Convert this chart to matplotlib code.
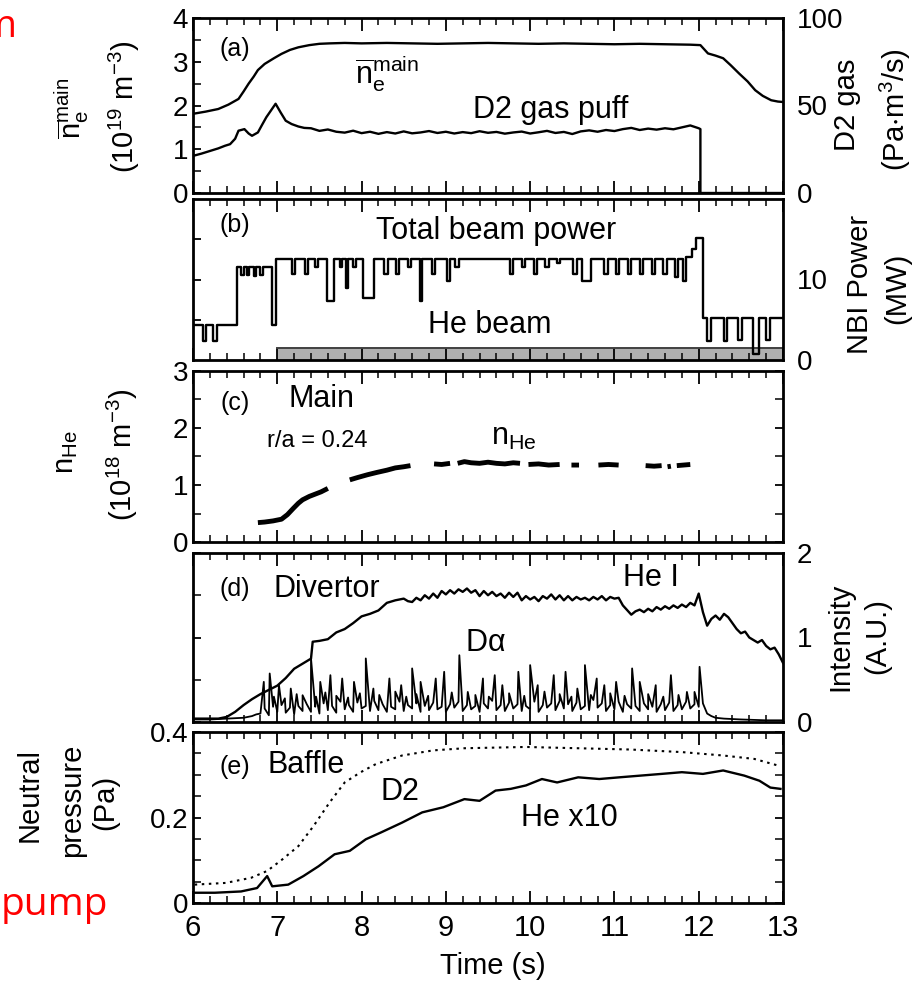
import numpy as np
import matplotlib
matplotlib.use("Agg")
import matplotlib.pyplot as plt
from matplotlib.ticker import MultipleLocator

plt.rcParams['font.family'] = ['Liberation Sans', 'DejaVu Sans']
plt.rcParams['mathtext.fontset'] = 'custom'
plt.rcParams['mathtext.rm'] = 'Liberation Sans'
plt.rcParams['mathtext.it'] = 'Liberation Sans'
plt.rcParams['mathtext.default'] = 'regular'

# ---------------- data ----------------
# (a) line-averaged density (1e19 m^-3) and D2 gas puff (Pa m3/s)
ne_t = [6.00, 6.15, 6.30, 6.42, 6.54, 6.60, 6.66, 6.72, 6.77, 6.85, 6.96, 7.05, 7.15,
        7.25, 7.38, 7.50, 7.62, 7.80, 8.00, 8.30, 8.60, 8.90, 9.20, 9.50, 9.80, 10.10,
        10.40, 10.70, 11.00, 11.30, 11.60, 11.90, 12.02, 12.11, 12.20, 12.29, 12.38,
        12.48, 12.58, 12.67, 12.76, 12.86, 12.94, 13.00]
ne_v = [1.81, 1.86, 1.92, 2.02, 2.15, 2.32, 2.50, 2.66, 2.81, 2.95, 3.08, 3.18, 3.27,
        3.33, 3.38, 3.41, 3.42, 3.43, 3.42, 3.43, 3.42, 3.41, 3.42, 3.43, 3.42, 3.41,
        3.42, 3.41, 3.40, 3.41, 3.40, 3.39, 3.38, 3.19, 3.14, 3.08, 2.92, 2.73, 2.55,
        2.35, 2.22, 2.12, 2.09, 2.08]

gas_t = [6.00, 6.10, 6.20, 6.30, 6.38, 6.44, 6.50, 6.54, 6.61, 6.66, 6.70, 6.77, 6.82,
         6.87, 6.93, 6.98, 7.04, 7.10, 7.17, 7.25, 7.32,
         7.4, 7.5, 7.6, 7.7, 7.8, 7.9, 8.0, 8.1, 8.2, 8.3, 8.4, 8.5, 8.6, 8.7, 8.8, 8.9,
         9.0, 9.1, 9.2, 9.3, 9.4, 9.5, 9.6, 9.7, 9.8, 9.9, 10.0, 10.1, 10.2, 10.3, 10.4,
         10.5, 10.6, 10.7, 10.8, 10.9, 11.0, 11.1, 11.2, 11.3, 11.4, 11.5, 11.6, 11.7,
         11.8, 11.9, 12.0, 12.02, 12.02, 13.0]
gas_v = [21.2, 22.5, 24.0, 25.5, 27.0, 27.9, 31.0, 35.6, 36.5, 34.0, 32.7, 34.6, 39.0,
         43.3, 47.5, 51.0, 46.0, 41.3, 39.4, 38.0, 37.2,
         37.0, 35.5, 36.3, 35.0, 34.5, 35.6, 34.2, 35.0, 33.8, 34.8, 34.0, 35.2, 34.1,
         34.6, 35.4, 34.3, 35.0, 34.0, 34.8, 34.2, 35.3, 34.4, 34.9, 33.9, 34.6, 35.1,
         34.0, 34.7, 35.5, 34.3, 34.9, 33.7, 35.2, 35.8, 35.0, 36.0, 35.4, 36.5, 37.2,
         36.0, 36.8, 36.2, 37.0, 36.4, 37.5, 38.6, 37.0, 36.5, 0.0, 0.0]

# (b) total beam power (MW), step data
beam_t = [6.00, 6.12, 6.16, 6.24, 6.28, 6.52, 6.57, 6.60, 6.64, 6.67, 6.72, 6.75, 6.80,
          6.83, 6.94, 6.99, 7.17, 7.21, 7.33, 7.37, 7.45, 7.48, 7.59, 7.67, 7.74, 7.77,
          7.81, 7.84, 7.90, 7.93, 8.02, 8.15, 8.27, 8.31, 8.41, 8.45, 8.55, 8.59, 8.69,
          8.72, 8.83, 8.87, 9.01, 9.05, 9.11, 9.15, 9.76, 9.80, 9.90, 9.94, 10.04, 10.08,
          10.18, 10.22, 10.32, 10.36, 10.51, 10.55, 10.61, 10.72, 10.88, 10.92, 11.02,
          11.06, 11.16, 11.20, 11.30, 11.34, 11.44, 11.48, 11.58, 11.62, 11.72, 11.76,
          11.81, 11.85, 11.92, 11.97, 12.05, 12.10, 12.14, 12.30, 12.34, 12.47, 12.51,
          12.64, 12.72, 12.80, 12.84, 13.00]
beam_p = [4.4, 2.3, 4.4, 2.3, 4.4, 11.5, 10.6, 11.5, 10.6, 11.5, 10.4, 11.5, 10.6,
          11.5, 4.4, 12.5, 10.7, 12.5, 10.7, 12.5, 11.5, 12.5, 7.3, 12.5, 11.5, 12.5,
          9.0, 12.5, 11.5, 12.5, 7.7, 12.5, 10.7, 12.5, 10.7, 12.5, 11.5, 12.5, 7.3,
          12.5, 10.7, 12.5, 9.8, 12.5, 11.5, 12.5, 10.7, 12.5, 11.5, 12.5, 10.7, 12.5,
          11.5, 12.5, 12.0, 12.5, 10.7, 12.5, 9.8, 12.5, 10.7, 12.5, 10.7,
          12.5, 10.7, 12.5, 10.7, 12.5, 10.7, 12.5, 10.7, 12.5, 10.3, 12.5,
          9.8, 12.8, 13.8, 15.2, 5.25, 2.3, 5.25, 2.3, 5.25, 2.5, 5.25,
          0.7, 5.25, 2.5, 5.25, 5.25]
he_beam_t = [7.0, 13.0]
he_beam_p = [1.5, 1.5]

# (c) core He density (1e18 m^-3), NaN = gaps
nhe_t = [6.77, 6.85, 6.95, 7.05, 7.12, 7.19, 7.25, 7.30, 7.38, 7.45, 7.52, 7.60, np.nan,
         7.86, 7.95, 8.07, 8.18, 8.30, 8.40, 8.50, 8.58, np.nan,
         8.86, 8.95, 9.05, np.nan,
         9.14, 9.22, 9.30, 9.40, 9.50, 9.60, 9.70, 9.80, 9.88, np.nan,
         9.98, 10.10, 10.22, 10.35, np.nan,
         10.49, 10.58, np.nan,
         10.81, 10.93, 11.05, np.nan,
         11.37, 11.47, 11.56, np.nan,
         11.63, 11.67, np.nan,
         11.74, 11.82, 11.90]
nhe_v = [0.34, 0.35, 0.37, 0.40, 0.48, 0.59, 0.68, 0.74, 0.80, 0.84, 0.88, 0.94, np.nan,
         1.09, 1.13, 1.18, 1.22, 1.26, 1.30, 1.32, 1.34, np.nan,
         1.37, 1.36, 1.38, np.nan,
         1.38, 1.41, 1.39, 1.38, 1.40, 1.38, 1.37, 1.39, 1.38, np.nan,
         1.36, 1.37, 1.35, 1.36, np.nan,
         1.35, 1.35, np.nan,
         1.35, 1.36, 1.35, np.nan,
         1.34, 1.33, 1.34, np.nan,
         1.32, 1.33, np.nan,
         1.34, 1.35, 1.36]

# (d) divertor He I and D-alpha intensities (A.U.)
hei_t = [6.0, 6.1, 6.2, 6.3, 6.4, 6.5, 6.6, 6.7, 6.8, 6.9, 7.0, 7.1, 7.2, 7.3, 7.4,
         7.42, 7.5, 7.6, 7.7, 7.8, 7.9, 8.0, 8.1, 8.2, 8.3, 8.4, 8.5, 8.55, 8.6, 8.65,
         8.7, 8.75, 8.8, 8.85, 8.9, 8.95, 9.0, 9.05, 9.1, 9.15, 9.2, 9.25, 9.3, 9.35,
         9.4, 9.45, 9.5, 9.55, 9.6, 9.65, 9.7, 9.75, 9.8, 9.85, 9.9, 9.95, 10.0, 10.05,
         10.1, 10.15, 10.2, 10.25, 10.3, 10.35, 10.4, 10.45, 10.5, 10.55, 10.6, 10.65,
         10.7, 10.75, 10.8, 10.85, 10.9, 10.95, 11.0, 11.05, 11.1, 11.2, 11.25, 11.3,
         11.35, 11.4, 11.45, 11.5, 11.55, 11.6, 11.65, 11.7, 11.75, 11.8, 11.85, 11.9,
         11.95, 12.0, 12.05, 12.1, 12.15, 12.2, 12.25, 12.3, 12.35, 12.4, 12.45, 12.5,
         12.55, 12.6, 12.65, 12.7, 12.75, 12.8, 12.85, 12.9, 12.95, 13.0]
hei_v = [0.04, 0.04, 0.04, 0.04, 0.06, 0.12, 0.20, 0.27, 0.33, 0.38, 0.43, 0.52, 0.63,
         0.69, 0.75, 0.95, 0.96, 0.98, 1.06, 1.10, 1.17, 1.25, 1.28, 1.32, 1.41, 1.44,
         1.46, 1.43, 1.42, 1.47, 1.44, 1.50, 1.46, 1.52, 1.47, 1.55, 1.51, 1.56, 1.52,
         1.57, 1.54, 1.58, 1.53, 1.56, 1.49, 1.55, 1.50, 1.54, 1.49, 1.52, 1.47, 1.53,
         1.48, 1.53, 1.44, 1.49, 1.45, 1.48, 1.43, 1.49, 1.46, 1.51, 1.45, 1.50, 1.44,
         1.49, 1.44, 1.48, 1.45, 1.47, 1.44, 1.48, 1.45, 1.49, 1.44, 1.48, 1.46, 1.47,
         1.38, 1.27, 1.31, 1.33, 1.30, 1.34, 1.31, 1.36, 1.33, 1.37, 1.34, 1.38, 1.35,
         1.39, 1.36, 1.41, 1.38, 1.52, 1.30, 1.14, 1.22, 1.26, 1.21, 1.28, 1.24, 1.17,
         1.10, 1.05, 1.07, 1.00, 0.97, 0.94, 0.97, 0.90, 0.86, 0.88, 0.80, 0.70]

da_base_v = [0.10, 0.16, 0.08, 0.18, 0.12, 0.20, 0.11, 0.17, 0.09, 0.19,
             0.13, 0.21, 0.12, 0.18, 0.10, 0.22, 0.14, 0.19, 0.11, 0.24,
             0.15, 0.20, 0.12, 0.23, 0.16, 0.19, 0.13, 0.25, 0.14, 0.21,
             0.12, 0.18, 0.15, 0.24, 0.13, 0.20, 0.16, 0.22, 0.12, 0.19,
             0.14, 0.23, 0.15, 0.18, 0.12, 0.21, 0.17, 0.24, 0.13, 0.20,
             0.15, 0.19, 0.12, 0.22, 0.16, 0.25, 0.14, 0.20, 0.13, 0.23,
             0.16, 0.21, 0.13, 0.19, 0.15, 0.24, 0.12, 0.20, 0.17, 0.22,
             0.14, 0.25, 0.16, 0.21, 0.13, 0.23, 0.15, 0.19, 0.14, 0.26,
             0.17, 0.22, 0.13, 0.20, 0.15, 0.24, 0.12, 0.21, 0.16, 0.19,
             0.13, 0.22, 0.15, 0.18, 0.12, 0.21, 0.14, 0.23, 0.13, 0.20,
             0.15, 0.24, 0.16, 0.21, 0.18, 0.22]
da_base_t = list(np.round(np.linspace(6.80, 12.05, len(da_base_v)), 3))
da_edge_t = [6.0, 6.2, 6.4, 6.6, 6.7, 6.75, 12.10, 12.15, 12.2, 12.3, 12.5, 12.8, 13.0]
da_edge_v = [0.03, 0.03, 0.04, 0.05, 0.07, 0.09, 0.10, 0.07, 0.05, 0.04, 0.03, 0.02, 0.02]
da_spike_t = [6.84, 6.91, 7.02, 7.16, 7.30, 7.40, 7.51, 7.63, 7.77, 7.91, 8.05, 8.14,
              8.33, 8.47, 8.60, 8.70, 8.88, 8.98, 9.16, 9.26, 9.44, 9.58, 9.67, 9.86,
              10.00, 10.09, 10.28, 10.42, 10.56, 10.65, 10.79, 10.88, 11.02, 11.21,
              11.30, 11.49, 11.67, 11.86, 11.95, 12.01,
              6.96, 7.09, 7.23, 7.46, 7.57, 7.70, 7.84, 7.98, 8.21, 8.40, 8.53, 8.65,
              8.79, 9.07, 9.35, 9.51, 9.75, 9.93, 10.17, 10.35, 10.49, 10.72, 10.95,
              11.12, 11.40, 11.58, 11.76]
da_spike_v = [0.475, 0.574, 0.436, 0.396, 0.317, 0.752, 0.475, 0.554, 0.515, 0.475,
              0.752, 0.396, 0.515, 0.436, 0.634, 0.475, 0.515, 0.594, 0.790, 0.356,
              0.515, 0.554, 0.436, 0.594, 0.673, 0.436, 0.554, 0.594, 0.396, 0.673,
              0.515, 0.436, 0.475, 0.634, 0.475, 0.436, 0.554, 0.356, 0.356, 0.653,
              0.30, 0.28, 0.33, 0.30, 0.35, 0.31, 0.29, 0.34, 0.32, 0.36, 0.30, 0.33,
              0.31, 0.35, 0.32, 0.30, 0.34, 0.31, 0.36, 0.33, 0.30, 0.32, 0.34,
              0.31, 0.33, 0.30, 0.32]

# (e) baffle neutral pressure (Pa)
d2p_t = [6.02, 6.39, 6.69, 6.88, 7.06, 7.25, 7.43, 7.62, 7.80, 7.99, 8.17, 8.48, 8.85,
         9.22, 9.95, 10.57, 11.19, 11.80, 12.29, 12.66, 12.97]
d2p_v = [0.043, 0.047, 0.059, 0.075, 0.102, 0.133, 0.180, 0.235, 0.282, 0.306, 0.325,
         0.345, 0.357, 0.362, 0.365, 0.362, 0.359, 0.353, 0.345, 0.337, 0.320]
hep_t = [6.02, 6.26, 6.57, 6.76, 6.88, 6.94, 7.13, 7.31, 7.49, 7.68, 7.86, 8.05, 8.23,
         8.48, 8.72, 8.97, 9.22, 9.40, 9.59, 9.77, 9.95, 10.14, 10.32, 10.57, 10.82,
         11.06, 11.31, 11.56, 11.80, 12.05, 12.29, 12.54, 12.72, 12.85, 12.97]
hep_v = [0.024, 0.024, 0.027, 0.035, 0.063, 0.039, 0.043, 0.063, 0.086, 0.114, 0.122,
         0.149, 0.165, 0.188, 0.212, 0.224, 0.243, 0.239, 0.263, 0.267, 0.275, 0.290,
         0.282, 0.294, 0.290, 0.294, 0.298, 0.302, 0.306, 0.302, 0.310, 0.298, 0.286,
         0.270, 0.267]

# ---------------- figure ----------------
W, H = 924, 984
fig = plt.figure(figsize=(W / 100, H / 100), dpi=100)


def add_ax(top, bottom, left=193, right=783):
    return fig.add_axes([left / W, 1 - bottom / H, (right - left) / W, (bottom - top) / H])


def fxy(px, py):
    return px / W, 1 - py / H


TICK = 20
TXT = 22
LW = 1.7

axes = [add_ax(18, 193), add_ax(199, 360), add_ax(371, 542), add_ax(553, 722),
        add_ax(732, 903)]
for ax in axes:
    ax.set_xlim(6, 13)
    ax.xaxis.set_major_locator(MultipleLocator(1))
    ax.xaxis.set_minor_locator(MultipleLocator(0.2))
    ax.tick_params(axis='x', which='both', direction='in', top=True, bottom=True)
    ax.tick_params(axis='y', which='both', direction='in', left=True, right=True)
    ax.tick_params(which='major', length=9, width=1.3, labelsize=TICK)
    ax.tick_params(which='minor', length=5, width=1.1)
    ax.tick_params(axis='y', which='both', length=6)
    for s in ax.spines.values():
        s.set_linewidth(2.0)
    ax.tick_params(labelbottom=False)
axes[-1].tick_params(axis='x', labelbottom=True, pad=8, labelsize=21)


def right_labels(ax, lim, ticks):
    tw = ax.twinx()
    tw.set_ylim(*lim)
    tw.set_yticks(ticks)
    tw.tick_params(axis='y', length=0, labelsize=TICK, pad=10)
    for s in tw.spines.values():
        s.set_visible(False)
    return tw


# (a)
ax = axes[0]
ax.set_ylim(0, 4)
ax.yaxis.set_major_locator(MultipleLocator(1))
ax.yaxis.set_minor_locator(MultipleLocator(0.5))
ax.tick_params(axis='y', labelleft=True, labelright=False)
ax.plot(ne_t, ne_v, color='black', lw=LW)
tw = right_labels(ax, (0, 100), [0, 50, 100])
tw.plot(gas_t, gas_v, color='black', lw=LW)
ax.text(6.5, 3.3, '(a)', fontsize=18, ha='center', va='center')
ax.text(7.92, 2.72, r'$\overline{n}_e^{main}$', fontsize=TXT, ha='left', va='center')
ax.text(10.24, 1.9, 'D2 gas puff', fontsize=TXT, ha='center', va='center')

# (b)
ax = axes[1]
ax.set_ylim(0, 20)
ax.set_yticks([5, 10, 15])
ax.tick_params(axis='y', labelleft=False)
ax.yaxis.set_minor_locator(plt.NullLocator())
right_labels(ax, (0, 20), [0, 10])
ax.fill_between(he_beam_t, 0, he_beam_p, color='#b0b0b0', lw=0)
ax.plot(he_beam_t, he_beam_p, color='#404040', lw=1.4)
ax.plot(beam_t, beam_p, color='black', lw=LW, drawstyle='steps-post')
ax.text(6.5, 16.8, '(b)', fontsize=18, ha='center', va='center')
ax.text(9.6, 16.0, 'Total beam power', fontsize=TXT, ha='center', va='center')
ax.text(9.52, 4.4, 'He beam', fontsize=TXT, ha='center', va='center')

# (c)
ax = axes[2]
ax.set_ylim(0, 3)
ax.yaxis.set_major_locator(MultipleLocator(1))
ax.yaxis.set_minor_locator(MultipleLocator(0.5))
ax.plot(nhe_t, nhe_v, color='black', lw=3.5, solid_capstyle='butt')
ax.text(6.5, 2.43, '(c)', fontsize=18, ha='center', va='center')
ax.text(7.52, 2.5, 'Main', fontsize=TXT, ha='center', va='center')
ax.text(7.47, 1.78, 'r/a = 0.24', fontsize=17, ha='center', va='center')
ax.text(9.8, 1.85, r'$n_{He}$', fontsize=TXT, ha='center', va='center')

# (d)
ax = axes[3]
ax.set_ylim(0, 2)
ax.yaxis.set_major_locator(MultipleLocator(1))
ax.yaxis.set_minor_locator(MultipleLocator(0.5))
ax.tick_params(axis='y', labelleft=False)
right_labels(ax, (0, 2), [0, 1, 2])
da_t = np.array(list(da_edge_t) + list(da_base_t) + list(da_spike_t))
da_v = np.array(list(da_edge_v) + list(da_base_v) + list(da_spike_v))
order = np.argsort(da_t, kind='stable')
ax.plot(da_t[order], da_v[order], color='black', lw=1.3)
ax.plot(hei_t, hei_v, color='black', lw=LW)
ax.text(6.49, 1.57, '(d)', fontsize=18, ha='center', va='center')
ax.text(7.59, 1.57, 'Divertor', fontsize=TXT, ha='center', va='center')
ax.text(11.43, 1.70, 'He I', fontsize=TXT, ha='center', va='center')
ax.text(9.47, 0.93, r'D$\alpha$', fontsize=TXT, ha='center', va='center')

# (e)
ax = axes[4]
ax.set_ylim(0, 0.4)
ax.set_yticks([0, 0.2, 0.4])
ax.set_yticklabels(['0', '0.2', '0.4'])
ax.yaxis.set_minor_locator(MultipleLocator(0.05))
ax.plot(d2p_t, d2p_v, color='black', lw=1.5, linestyle=(0, (1.2, 2.2)))
ax.plot(hep_t, hep_v, color='black', lw=LW)
ax.text(6.5, 0.318, '(e)', fontsize=18, ha='center', va='center')
ax.text(7.34, 0.323, 'Baffle', fontsize=TXT, ha='center', va='center')
ax.text(8.46, 0.26, 'D2', fontsize=TXT, ha='center', va='center')
ax.text(10.47, 0.199, 'He x10', fontsize=TXT, ha='center', va='center')

# axis titles (figure text)
LAB = 21
fig.text(*fxy(72, 108), r'$\overline{n}_e^{main}$', rotation=90, fontsize=LAB, ha='center', va='center')
fig.text(*fxy(124, 107), r'(10$^{19}$ m$^{-3}$)', rotation=90, fontsize=LAB, ha='center', va='center')
fig.text(*fxy(66, 452), r'$n_{He}$', rotation=90, fontsize=LAB, ha='center', va='center')
fig.text(*fxy(122, 455), r'(10$^{18}$ m$^{-3}$)', rotation=90, fontsize=LAB, ha='center', va='center')
fig.text(*fxy(30, 795), 'Neutral', rotation=90, fontsize=LAB, ha='center', va='center')
fig.text(*fxy(72, 800), 'pressure', rotation=90, fontsize=LAB, ha='center', va='center')
fig.text(*fxy(105, 802), '(Pa)', rotation=90, fontsize=LAB, ha='center', va='center')
fig.text(*fxy(847, 105), 'D2 gas', rotation=90, fontsize=LAB, ha='center', va='center')
fig.text(*fxy(895, 110), r'(Pa$\cdot$m$^3$/s)', rotation=90, fontsize=LAB, ha='center', va='center')
fig.text(*fxy(860, 284), 'NBI Power', rotation=90, fontsize=LAB, ha='center', va='center')
fig.text(*fxy(897, 288), '(MW)', rotation=90, fontsize=LAB, ha='center', va='center')
fig.text(*fxy(840, 637), 'Intensity', rotation=90, fontsize=LAB, ha='center', va='center')
fig.text(*fxy(877, 636), '(A.U.)', rotation=90, fontsize=LAB, ha='center', va='center')
fig.text(*fxy(493, 966), 'Time (s)', fontsize=LAB, ha='center', va='center')

# red slide text fragments (the "m" is cut by the left edge in the reference)
fig.text(*fxy(17, 37), 'm', color='red', fontsize=28, family=['Open Sans', 'DejaVu Sans'],
         ha='right', va='baseline')
fig.text(*fxy(1, 915), 'pump', color='red', fontsize=28, family=['Open Sans', 'DejaVu Sans'],
         ha='left', va='baseline')

fig.savefig('out.png', dpi=100)
